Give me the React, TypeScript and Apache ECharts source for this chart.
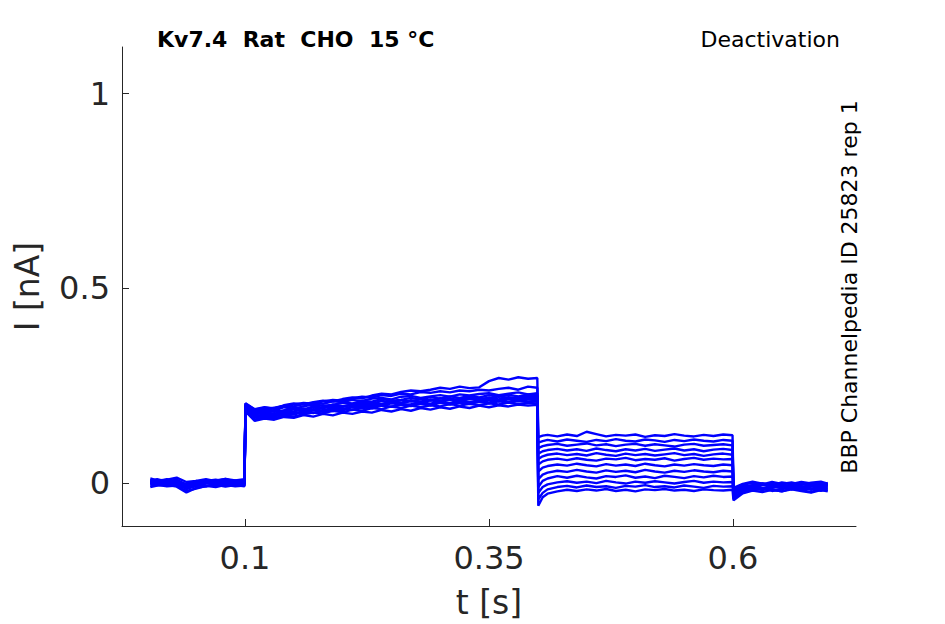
import React, { useEffect, useRef } from "react";
import * as echarts from "echarts";

// time samples (s) for each protocol segment
const tBase = [0.003, 0.01, 0.02, 0.03, 0.04, 0.05, 0.06, 0.07, 0.08, 0.09, 0.0995];
const tAct = [0.1005, 0.11, 0.12, 0.13, 0.14, 0.15, 0.16, 0.17, 0.18, 0.19, 0.2, 0.21, 0.22, 0.23, 0.24, 0.25, 0.26, 0.27, 0.28, 0.29, 0.3, 0.31, 0.32, 0.33, 0.34, 0.35, 0.36, 0.37, 0.38, 0.39, 0.3995];
const tDeact = [0.4005, 0.405, 0.41, 0.42, 0.43, 0.44, 0.45, 0.46, 0.47, 0.48, 0.49, 0.5, 0.51, 0.52, 0.53, 0.54, 0.55, 0.56, 0.57, 0.58, 0.59, 0.5995];
const tTail = [0.6005, 0.61, 0.62, 0.63, 0.64, 0.65, 0.66, 0.67, 0.68, 0.69, 0.697];

// current (nA) per trace, baseline segment
const baseI = [
  [0.004, 0.006, 0.002, 0.008, -0.006, -0.004, 0.003, 0.005, 0.001, 0.006, 0.004],
  [0.0, -0.004, 0.003, -0.002, -0.012, -0.008, -0.001, 0.002, -0.003, 0.002, -0.002],
  [0.008, 0.003, 0.01, 0.004, -0.002, 0.002, 0.006, 0.009, 0.004, 0.007, 0.002],
  [-0.007, -0.004, -0.008, -0.006, -0.02, -0.014, -0.007, -0.01, -0.004, -0.008, -0.006],
  [0.002, 0.008, 0.0, 0.005, -0.009, -0.003, 0.004, 0.001, 0.007, 0.002, 0.006],
  [-0.002, 0.001, -0.004, 0.002, -0.015, -0.006, 0.0, -0.003, 0.003, -0.002, 0.001],
  [0.012, 0.007, 0.009, 0.014, 0.003, 0.006, 0.01, 0.005, 0.011, 0.007, 0.01],
  [-0.01, -0.006, -0.004, -0.009, -0.024, -0.012, -0.008, -0.004, -0.009, -0.005, -0.008],
  [0.003, -0.001, 0.005, 0.0, -0.01, -0.002, 0.002, 0.006, 0.0, 0.004, 0.0],
  [0.006, 0.01, 0.004, 0.009, -0.004, 0.006, 0.002, 0.007, 0.011, 0.003, 0.005],
  [-0.003, 0.002, -0.006, -0.001, -0.014, -0.004, -0.008, 0.0, -0.004, -0.001, -0.003],
  [0.001, -0.005, 0.002, 0.003, -0.008, 0.0, 0.004, -0.002, 0.002, 0.0, 0.003],
];

// activation segment
const actI = [
  [0.205, 0.19, 0.195, 0.192, 0.2, 0.205, 0.202, 0.208, 0.212, 0.21, 0.216, 0.22, 0.218, 0.225, 0.23, 0.228, 0.234, 0.238, 0.236, 0.24, 0.245, 0.242, 0.248, 0.244, 0.246, 0.262, 0.27, 0.266, 0.272, 0.268, 0.27],
  [0.2, 0.185, 0.19, 0.194, 0.198, 0.202, 0.206, 0.204, 0.21, 0.214, 0.212, 0.218, 0.222, 0.22, 0.226, 0.224, 0.23, 0.228, 0.234, 0.232, 0.236, 0.233, 0.238, 0.236, 0.24, 0.238, 0.242, 0.245, 0.24, 0.248, 0.245],
  [0.204, 0.189, 0.194, 0.191, 0.199, 0.197, 0.203, 0.206, 0.204, 0.21, 0.208, 0.214, 0.211, 0.217, 0.219, 0.215, 0.222, 0.224, 0.219, 0.223, 0.226, 0.222, 0.228, 0.225, 0.229, 0.231, 0.226, 0.23, 0.233, 0.228, 0.231],
  [0.198, 0.183, 0.19, 0.186, 0.195, 0.191, 0.197, 0.202, 0.199, 0.201, 0.207, 0.205, 0.211, 0.209, 0.216, 0.212, 0.214, 0.219, 0.215, 0.221, 0.217, 0.223, 0.219, 0.224, 0.22, 0.226, 0.222, 0.227, 0.223, 0.228, 0.225],
  [0.201, 0.179, 0.186, 0.183, 0.187, 0.193, 0.189, 0.197, 0.194, 0.202, 0.198, 0.201, 0.207, 0.204, 0.211, 0.208, 0.214, 0.21, 0.216, 0.212, 0.218, 0.214, 0.216, 0.221, 0.217, 0.218, 0.223, 0.219, 0.22, 0.224, 0.221],
  [0.196, 0.176, 0.182, 0.178, 0.187, 0.184, 0.192, 0.188, 0.196, 0.193, 0.197, 0.201, 0.198, 0.205, 0.202, 0.208, 0.205, 0.211, 0.207, 0.213, 0.209, 0.215, 0.211, 0.216, 0.212, 0.218, 0.214, 0.219, 0.215, 0.22, 0.217],
  [0.193, 0.171, 0.178, 0.175, 0.183, 0.18, 0.184, 0.19, 0.186, 0.194, 0.19, 0.197, 0.194, 0.201, 0.199, 0.205, 0.202, 0.203, 0.208, 0.204, 0.21, 0.206, 0.212, 0.208, 0.209, 0.214, 0.21, 0.215, 0.211, 0.216, 0.213],
  [0.19, 0.168, 0.174, 0.17, 0.179, 0.176, 0.184, 0.18, 0.188, 0.185, 0.191, 0.188, 0.195, 0.192, 0.199, 0.196, 0.202, 0.198, 0.204, 0.2, 0.206, 0.202, 0.207, 0.204, 0.209, 0.205, 0.21, 0.207, 0.211, 0.208, 0.21],
  [0.186, 0.163, 0.17, 0.166, 0.175, 0.171, 0.177, 0.181, 0.179, 0.186, 0.182, 0.189, 0.186, 0.193, 0.19, 0.197, 0.193, 0.199, 0.195, 0.2, 0.197, 0.203, 0.199, 0.204, 0.2, 0.205, 0.202, 0.207, 0.203, 0.206, 0.204],
  [0.184, 0.16, 0.166, 0.163, 0.17, 0.168, 0.175, 0.171, 0.178, 0.174, 0.181, 0.178, 0.184, 0.181, 0.188, 0.184, 0.19, 0.186, 0.193, 0.189, 0.195, 0.191, 0.197, 0.193, 0.199, 0.195, 0.2, 0.197, 0.202, 0.199, 0.201],
  [0.199, 0.183, 0.179, 0.186, 0.184, 0.19, 0.187, 0.195, 0.192, 0.199, 0.196, 0.203, 0.2, 0.206, 0.203, 0.21, 0.207, 0.213, 0.209, 0.215, 0.211, 0.217, 0.213, 0.218, 0.214, 0.22, 0.215, 0.221, 0.217, 0.222, 0.219],
  [0.188, 0.175, 0.17, 0.178, 0.176, 0.182, 0.179, 0.187, 0.183, 0.191, 0.187, 0.195, 0.192, 0.197, 0.2, 0.196, 0.203, 0.199, 0.206, 0.202, 0.208, 0.204, 0.21, 0.205, 0.211, 0.207, 0.212, 0.208, 0.213, 0.21, 0.211],
];

// deactivation segment
const deactI = [
  [0.118, 0.122, 0.124, 0.12, 0.125, 0.121, 0.132, 0.126, 0.12, 0.124, 0.122, 0.125, 0.119, 0.123, 0.121, 0.126, 0.122, 0.12, 0.124, 0.121, 0.125, 0.123],
  [0.104, 0.108, 0.111, 0.107, 0.112, 0.109, 0.106, 0.111, 0.108, 0.113, 0.109, 0.107, 0.112, 0.11, 0.106, 0.111, 0.108, 0.112, 0.109, 0.107, 0.111, 0.109],
  [0.09, 0.095, 0.098, 0.101, 0.096, 0.099, 0.102, 0.097, 0.1, 0.095, 0.099, 0.101, 0.096, 0.1, 0.097, 0.094, 0.099, 0.101, 0.096, 0.098, 0.1, 0.097],
  [0.076, 0.082, 0.085, 0.088, 0.084, 0.087, 0.083, 0.089, 0.085, 0.082, 0.087, 0.084, 0.088, 0.083, 0.086, 0.089, 0.084, 0.087, 0.082, 0.086, 0.088, 0.085],
  [0.062, 0.069, 0.073, 0.076, 0.072, 0.075, 0.071, 0.077, 0.073, 0.07, 0.076, 0.072, 0.075, 0.071, 0.074, 0.077, 0.072, 0.075, 0.07, 0.074, 0.076, 0.073],
  [0.048, 0.056, 0.06, 0.063, 0.059, 0.064, 0.06, 0.058, 0.063, 0.061, 0.065, 0.059, 0.062, 0.06, 0.064, 0.058, 0.062, 0.065, 0.06, 0.063, 0.061, 0.062],
  [0.03, 0.04, 0.044, 0.048, 0.045, 0.05, 0.046, 0.043, 0.049, 0.045, 0.048, 0.044, 0.05, 0.046, 0.043, 0.048, 0.045, 0.049, 0.046, 0.044, 0.048, 0.046],
  [0.01, 0.022, 0.027, 0.032, 0.029, 0.034, 0.03, 0.027, 0.033, 0.029, 0.032, 0.028, 0.034, 0.03, 0.027, 0.032, 0.029, 0.033, 0.03, 0.028, 0.032, 0.03],
  [-0.01, 0.006, 0.012, 0.018, 0.014, 0.019, 0.015, 0.012, 0.018, 0.016, 0.02, 0.014, 0.017, 0.013, 0.019, 0.016, 0.013, 0.018, 0.015, 0.019, 0.016, 0.017],
  [-0.025, -0.01, -0.003, 0.002, 0.005, 0.001, 0.004, 0.0, 0.006, 0.002, -0.001, 0.004, 0.001, 0.005, 0.002, -0.001, 0.003, 0.006, 0.001, 0.004, 0.002, 0.003],
  [-0.042, -0.025, -0.016, -0.01, -0.007, -0.011, -0.006, -0.01, -0.008, -0.012, -0.007, -0.009, -0.005, -0.01, -0.008, -0.011, -0.006, -0.009, -0.012, -0.007, -0.009, -0.008],
  [-0.058, -0.036, -0.027, -0.021, -0.017, -0.02, -0.016, -0.019, -0.015, -0.02, -0.017, -0.021, -0.016, -0.018, -0.015, -0.019, -0.017, -0.02, -0.016, -0.018, -0.019, -0.017],
];

// tail segment
const tailI = [
  [-0.015, -0.004, 0.001, -0.003, 0.003, -0.002, 0.002, -0.004, 0.001, 0.004, -0.001],
  [-0.03, -0.01, -0.006, -0.001, -0.008, -0.003, -0.009, -0.004, 0.0, -0.006, -0.002],
  [-0.022, -0.006, -0.012, -0.005, -0.001, -0.009, -0.004, -0.011, -0.006, -0.01, -0.003],
  [-0.036, -0.02, -0.013, -0.018, -0.012, -0.008, -0.015, -0.01, -0.017, -0.011, -0.014],
  [-0.012, -0.002, 0.004, -0.001, -0.005, 0.002, -0.002, 0.003, -0.001, -0.006, 0.001],
  [-0.04, -0.024, -0.018, -0.013, -0.017, -0.021, -0.014, -0.018, -0.023, -0.015, -0.019],
  [-0.014, -0.007, -0.012, -0.003, -0.008, -0.013, -0.005, -0.01, -0.004, -0.009, -0.005],
  [-0.028, -0.016, -0.01, -0.015, -0.011, -0.007, -0.016, -0.012, -0.008, -0.014, -0.011],
  [-0.026, -0.015, -0.019, -0.013, -0.02, -0.015, -0.011, -0.017, -0.014, -0.02, -0.016],
  [-0.032, -0.012, -0.005, -0.001, -0.005, -0.009, -0.004, 0.001, -0.005, -0.001, -0.006],
  [-0.018, -0.01, -0.006, -0.012, -0.008, -0.004, -0.01, -0.015, -0.009, -0.006, -0.01],
  [-0.044, -0.026, -0.019, -0.023, -0.017, -0.021, -0.016, -0.02, -0.024, -0.018, -0.021],
];

const xTicks = [0.1, 0.35, 0.6];
const yTicks = [0, 0.5, 1];

const FONT = "DejaVu Sans";
const AXIS_COLOR = "#262626";

export default function App() {
  const ref = useRef<HTMLDivElement>(null);
  useEffect(() => {
    if (!ref.current) return;
    const chart = echarts.init(ref.current, undefined, { renderer: "svg" });
    const zip = (ts: number[], vs: number[]) => ts.map((t, j) => [t, vs[j]]);
    const series = baseI.map((_, i) => ({
      type: "line",
      data: [
        ...zip(tBase, baseI[i]),
        ...zip(tAct, actI[i]),
        ...zip(tDeact, deactI[i]),
        ...zip(tTail, tailI[i]),
      ],
      showSymbol: false,
      symbol: "none",
      lineStyle: { color: "#0000ff", width: 2.4 },
      itemStyle: { color: "#0000ff" },
      silent: true,
    }));
    chart.setOption({
      animation: false,
      backgroundColor: "#ffffff",
      grid: { left: 122, right: 89, top: 47, bottom: 98, containLabel: false },
      xAxis: {
        type: "value",
        min: -0.026,
        max: 0.726,
        name: "t [s]",
        nameLocation: "middle",
        nameGap: 60,
        nameTextStyle: { fontFamily: FONT, fontSize: 33, color: AXIS_COLOR },
        axisLine: { show: true, onZero: false, lineStyle: { color: AXIS_COLOR, width: 1 } },
        axisTick: { show: true, inside: true, length: 7, customValues: xTicks, lineStyle: { color: AXIS_COLOR } },
        axisLabel: { customValues: xTicks, fontFamily: FONT, fontSize: 32, color: AXIS_COLOR, margin: 16 },
        splitLine: { show: false },
      },
      yAxis: {
        type: "value",
        min: -0.11,
        max: 1.12,
        name: "I [nA]",
        nameLocation: "middle",
        nameGap: 78,
        nameTextStyle: { fontFamily: FONT, fontSize: 33, color: AXIS_COLOR },
        axisLine: { show: true, onZero: false, lineStyle: { color: AXIS_COLOR, width: 1 } },
        axisTick: { show: true, inside: true, length: 7, customValues: yTicks, lineStyle: { color: AXIS_COLOR } },
        axisLabel: { customValues: yTicks, fontFamily: FONT, fontSize: 32, color: AXIS_COLOR, margin: 12 },
        splitLine: { show: false },
      },
      graphic: [
        {
          type: "text",
          left: 157,
          top: 28,
          style: { text: "Kv7.4  Rat  CHO  15 °C", fontFamily: FONT, fontSize: 22, fontWeight: "bold", fill: "#000000" },
        },
        {
          type: "text",
          x: 840,
          y: 39,
          style: { text: "Deactivation", fontFamily: FONT, fontSize: 22, fill: "#000000", textAlign: "right", textVerticalAlign: "middle" },
        },
        {
          type: "text",
          x: 849,
          y: 287,
          rotation: Math.PI / 2,
          style: { text: "BBP Channelpedia ID 25823 rep 1", fontFamily: FONT, fontSize: 22, fill: "#000000", textAlign: "center", textVerticalAlign: "middle" },
        },
      ],
      series,
    });
    return () => chart.dispose();
  }, []);
  return <div ref={ref} style={{ position: "fixed", left: 0, top: 0, width: 945, height: 624 }} />;
}
